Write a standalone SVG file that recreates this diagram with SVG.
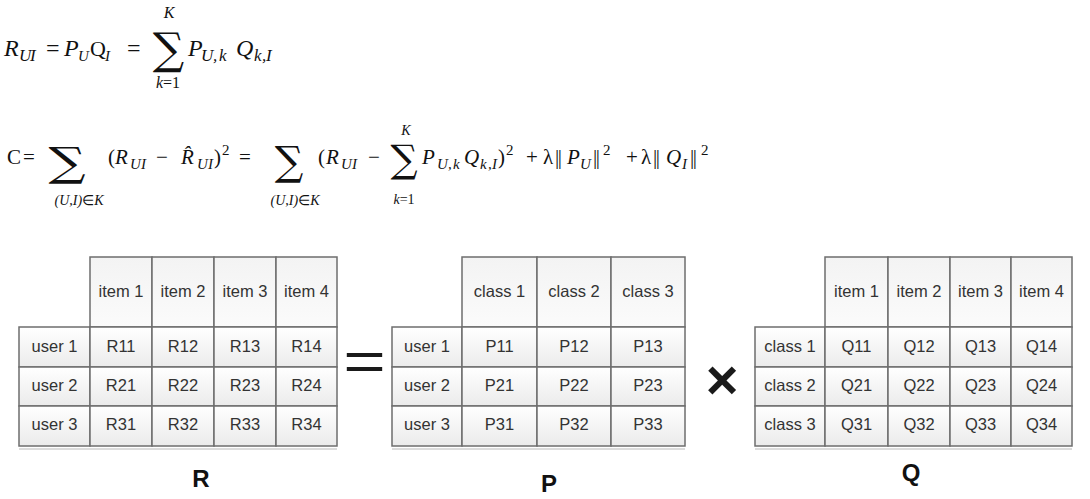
<svg xmlns="http://www.w3.org/2000/svg" width="1090" height="499" viewBox="0 0 1090 499">
<defs>
<linearGradient id="gCell" x1="0" y1="0" x2="0" y2="1">
<stop offset="0" stop-color="#ffffff"/>
<stop offset="1" stop-color="#ebebeb"/>
</linearGradient>
<linearGradient id="gHead" x1="0" y1="0" x2="0" y2="1">
<stop offset="0" stop-color="#f3f3f3"/>
<stop offset="1" stop-color="#fbfbfb"/>
</linearGradient>
<style>
.m{font-family:"Liberation Serif","Times New Roman",serif;fill:#111}
.i{font-style:italic}
.sig{font-family:"DejaVu Serif","Liberation Serif",serif;fill:#111}
.c{fill:url(#gCell);stroke:#6e6e6e;stroke-width:1.5}
.h{fill:url(#gHead);stroke:#6e6e6e;stroke-width:1.5}
.t{font-family:"Liberation Sans",Arial,sans-serif;font-size:16.5px;fill:#333;text-anchor:middle}
.lbl{font-family:"Liberation Sans",Arial,sans-serif;font-size:24px;font-weight:bold;fill:#111;text-anchor:middle}
.op{font-family:"Liberation Sans",Arial,sans-serif;fill:#1a1a1a}
.sh{stroke:#dcdcdc;stroke-width:2}
</style>
</defs>

<g id="formula1">
<text class="m" font-size="24"><tspan x="4" y="56" class="i">R</tspan><tspan x="19" y="61" font-size="17" class="i">U</tspan><tspan x="30" y="61" font-size="17" class="i">I</tspan><tspan x="46" y="56">=</tspan><tspan x="64" y="56" class="i">P</tspan><tspan x="78" y="61" font-size="15" class="i">U</tspan><tspan x="90" y="56" font-size="22">Q</tspan><tspan x="105" y="61" font-size="15" class="i">I</tspan><tspan x="127" y="56">=</tspan><tspan x="188" y="56" class="i">P</tspan><tspan x="201" y="61" font-size="17" class="i">U</tspan><tspan x="213" y="61" font-size="17" class="i">,</tspan><tspan x="219" y="61" font-size="17" class="i">k</tspan><tspan x="236" y="56" class="i">Q</tspan><tspan x="254" y="61" font-size="17" class="i">k</tspan><tspan x="262" y="61" font-size="17" class="i">,</tspan><tspan x="266" y="61" font-size="17" class="i">I</tspan></text>
<text class="sig" x="168.5" y="64" font-size="44" text-anchor="middle">∑</text>
<text class="m i" x="169" y="18" font-size="16" text-anchor="middle">K</text>
<text class="m" x="168" y="88" font-size="16" text-anchor="middle"><tspan class="i">k</tspan>=1</text>
</g>

<g id="formula2">
<text class="m" font-size="21"><tspan x="7" y="164">C</tspan><tspan x="23" y="164">=</tspan><tspan x="108" y="164">(</tspan><tspan x="115" y="164" class="i">R</tspan><tspan x="130" y="169" font-size="15" class="i">U</tspan><tspan x="141" y="169" font-size="15" class="i">I</tspan><tspan x="156" y="164">−</tspan><tspan x="181" y="164" class="i">R̂</tspan><tspan x="197" y="169" font-size="15" class="i">U</tspan><tspan x="208" y="169" font-size="15" class="i">I</tspan><tspan x="214" y="164">)</tspan><tspan x="222" y="155" font-size="15">2</tspan><tspan x="239" y="164">=</tspan><tspan x="318" y="164">(</tspan><tspan x="326" y="164" class="i">R</tspan><tspan x="341" y="169" font-size="15" class="i">U</tspan><tspan x="352" y="169" font-size="15" class="i">I</tspan><tspan x="368" y="164">−</tspan><tspan x="422" y="164" class="i">P</tspan><tspan x="437" y="169" font-size="15" class="i">U</tspan><tspan x="448" y="169" font-size="15" class="i">,</tspan><tspan x="453" y="169" font-size="15" class="i">k</tspan><tspan x="464" y="164" class="i">Q</tspan><tspan x="480" y="169" font-size="15" class="i">k</tspan><tspan x="488" y="169" font-size="15" class="i">,</tspan><tspan x="492" y="169" font-size="15" class="i">I</tspan><tspan x="498" y="164">)</tspan><tspan x="506" y="155" font-size="15">2</tspan><tspan x="526" y="164">+</tspan><tspan x="543" y="164">λ</tspan><tspan x="555" y="164" letter-spacing="-1.5">||</tspan><tspan x="567" y="164" class="i">P</tspan><tspan x="580" y="169" font-size="15" class="i">U</tspan><tspan x="593" y="164" letter-spacing="-1.5">||</tspan><tspan x="603" y="155" font-size="15">2</tspan><tspan x="626" y="164">+</tspan><tspan x="641" y="164">λ</tspan><tspan x="653" y="164" letter-spacing="-1.5">||</tspan><tspan x="666" y="164" class="i">Q</tspan><tspan x="682" y="169" font-size="15" class="i">I</tspan><tspan x="690" y="164" letter-spacing="-1.5">||</tspan><tspan x="701" y="155" font-size="15">2</tspan></text>
<text class="sig" x="67" y="176" font-size="40" text-anchor="middle" transform="translate(67 0) scale(1.3 1) translate(-67 0)">∑</text>
<text class="sig" x="289" y="175" font-size="40" text-anchor="middle">∑</text>
<text class="sig" x="404" y="172" font-size="38" text-anchor="middle">∑</text>
<text class="m" x="79" y="205" font-size="14" text-anchor="middle"><tspan class="i">(U,I)</tspan>∈<tspan class="i">K</tspan></text>
<text class="m" x="295" y="205" font-size="14" text-anchor="middle"><tspan class="i">(U,I)</tspan>∈<tspan class="i">K</tspan></text>
<text class="m i" x="406" y="135" font-size="14" text-anchor="middle">K</text>
<text class="m" x="404" y="204" font-size="14" text-anchor="middle"><tspan class="i">k</tspan>=1</text>
</g>

<g id="tableR">
<line class="sh" x1="19" y1="449" x2="337" y2="449"/>
<rect class="h" x="90" y="257" width="62" height="70"/>
<rect class="h" x="152" y="257" width="62" height="70"/>
<rect class="h" x="214" y="257" width="62" height="70"/>
<rect class="h" x="276" y="257" width="61" height="70"/>
<rect class="c" x="19" y="327" width="71" height="40"/><rect class="c" x="90" y="327" width="62" height="40"/><rect class="c" x="152" y="327" width="62" height="40"/><rect class="c" x="214" y="327" width="62" height="40"/><rect class="c" x="276" y="327" width="61" height="40"/>
<rect class="c" x="19" y="367" width="71" height="39"/><rect class="c" x="90" y="367" width="62" height="39"/><rect class="c" x="152" y="367" width="62" height="39"/><rect class="c" x="214" y="367" width="62" height="39"/><rect class="c" x="276" y="367" width="61" height="39"/>
<rect class="c" x="19" y="406" width="71" height="40"/><rect class="c" x="90" y="406" width="62" height="40"/><rect class="c" x="152" y="406" width="62" height="40"/><rect class="c" x="214" y="406" width="62" height="40"/><rect class="c" x="276" y="406" width="61" height="40"/>
<text class="t" x="121" y="297">item 1</text><text class="t" x="183" y="297">item 2</text><text class="t" x="245" y="297">item 3</text><text class="t" x="306.5" y="297">item 4</text>
<text class="t" x="54.5" y="352">user 1</text><text class="t" x="121" y="352">R11</text><text class="t" x="183" y="352">R12</text><text class="t" x="245" y="352">R13</text><text class="t" x="306.5" y="352">R14</text>
<text class="t" x="54.5" y="391">user 2</text><text class="t" x="121" y="391">R21</text><text class="t" x="183" y="391">R22</text><text class="t" x="245" y="391">R23</text><text class="t" x="306.5" y="391">R24</text>
<text class="t" x="54.5" y="430">user 3</text><text class="t" x="121" y="430">R31</text><text class="t" x="183" y="430">R32</text><text class="t" x="245" y="430">R33</text><text class="t" x="306.5" y="430">R34</text>
<text class="lbl" x="201" y="487">R</text>
</g>

<g id="tableP">
<line class="sh" x1="392" y1="449" x2="685" y2="449"/>
<rect class="h" x="462" y="257" width="75" height="70"/>
<rect class="h" x="537" y="257" width="74" height="70"/>
<rect class="h" x="611" y="257" width="74" height="70"/>
<rect class="c" x="392" y="327" width="70" height="40"/><rect class="c" x="462" y="327" width="75" height="40"/><rect class="c" x="537" y="327" width="74" height="40"/><rect class="c" x="611" y="327" width="74" height="40"/>
<rect class="c" x="392" y="367" width="70" height="39"/><rect class="c" x="462" y="367" width="75" height="39"/><rect class="c" x="537" y="367" width="74" height="39"/><rect class="c" x="611" y="367" width="74" height="39"/>
<rect class="c" x="392" y="406" width="70" height="40"/><rect class="c" x="462" y="406" width="75" height="40"/><rect class="c" x="537" y="406" width="74" height="40"/><rect class="c" x="611" y="406" width="74" height="40"/>
<text class="t" x="499.5" y="297">class 1</text><text class="t" x="574" y="297">class 2</text><text class="t" x="648" y="297">class 3</text>
<text class="t" x="427" y="352">user 1</text><text class="t" x="499.5" y="352">P11</text><text class="t" x="574" y="352">P12</text><text class="t" x="648" y="352">P13</text>
<text class="t" x="427" y="391">user 2</text><text class="t" x="499.5" y="391">P21</text><text class="t" x="574" y="391">P22</text><text class="t" x="648" y="391">P23</text>
<text class="t" x="427" y="430">user 3</text><text class="t" x="499.5" y="430">P31</text><text class="t" x="574" y="430">P32</text><text class="t" x="648" y="430">P33</text>
<text class="lbl" x="549" y="492">P</text>
</g>

<g id="tableQ">
<line class="sh" x1="755" y1="449" x2="1072" y2="449"/>
<rect class="h" x="825" y="257" width="63" height="70"/>
<rect class="h" x="888" y="257" width="62" height="70"/>
<rect class="h" x="950" y="257" width="61" height="70"/>
<rect class="h" x="1011" y="257" width="61" height="70"/>
<rect class="c" x="755" y="327" width="70" height="40"/><rect class="c" x="825" y="327" width="63" height="40"/><rect class="c" x="888" y="327" width="62" height="40"/><rect class="c" x="950" y="327" width="61" height="40"/><rect class="c" x="1011" y="327" width="61" height="40"/>
<rect class="c" x="755" y="367" width="70" height="39"/><rect class="c" x="825" y="367" width="63" height="39"/><rect class="c" x="888" y="367" width="62" height="39"/><rect class="c" x="950" y="367" width="61" height="39"/><rect class="c" x="1011" y="367" width="61" height="39"/>
<rect class="c" x="755" y="406" width="70" height="40"/><rect class="c" x="825" y="406" width="63" height="40"/><rect class="c" x="888" y="406" width="62" height="40"/><rect class="c" x="950" y="406" width="61" height="40"/><rect class="c" x="1011" y="406" width="61" height="40"/>
<text class="t" x="856.5" y="297">item 1</text><text class="t" x="919" y="297">item 2</text><text class="t" x="980.5" y="297">item 3</text><text class="t" x="1041.5" y="297">item 4</text>
<text class="t" x="790" y="352">class 1</text><text class="t" x="856.5" y="352">Q11</text><text class="t" x="919" y="352">Q12</text><text class="t" x="980.5" y="352">Q13</text><text class="t" x="1041.5" y="352">Q14</text>
<text class="t" x="790" y="391">class 2</text><text class="t" x="856.5" y="391">Q21</text><text class="t" x="919" y="391">Q22</text><text class="t" x="980.5" y="391">Q23</text><text class="t" x="1041.5" y="391">Q24</text>
<text class="t" x="790" y="430">class 3</text><text class="t" x="856.5" y="430">Q31</text><text class="t" x="919" y="430">Q32</text><text class="t" x="980.5" y="430">Q33</text><text class="t" x="1041.5" y="430">Q34</text>
<text class="lbl" x="911" y="481">Q</text>
</g>

<g id="operators">
<text class="op" x="364.5" y="380" font-size="56" text-anchor="middle" transform="translate(364.5 0) scale(1.3 1) translate(-364.5 0)">=</text>
<text class="op" x="722" y="399" font-size="56" font-weight="bold" text-anchor="middle">×</text>
</g>
</svg>
